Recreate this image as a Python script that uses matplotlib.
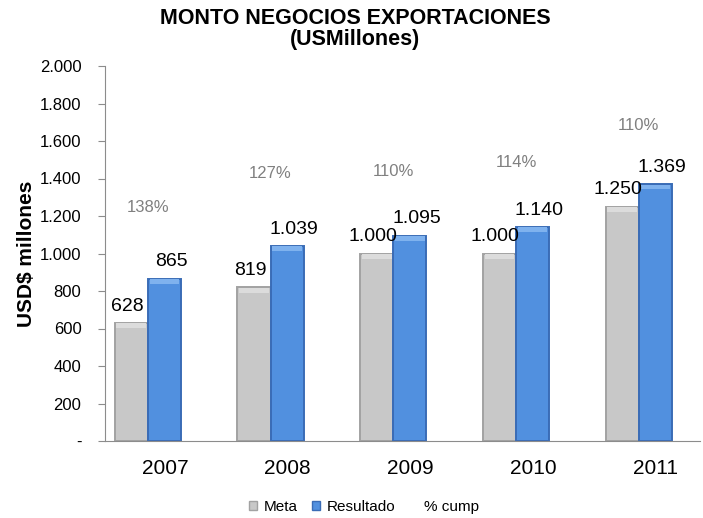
import matplotlib
matplotlib.use("Agg")
import matplotlib.pyplot as plt
import numpy as np
from matplotlib.patches import Patch
from matplotlib.lines import Line2D
import matplotlib.transforms as mtransforms

# Data
years = ["2007", "2008", "2009", "2010", "2011"]
meta = [628, 819, 1000, 1000, 1250]
resultado = [865, 1039, 1095, 1140, 1369]
cumplimiento = ["138%", "127%", "110%", "114%", "110%"]
cump_label_y = [1246, 1428, 1435, 1487, 1684]  # height at which each % label is written
yticks = [0, 200, 400, 600, 800, 1000, 1200, 1400, 1600, 1800, 2000]
ytick_labels = ["-", "200", "400", "600", "800", "1.000", "1.200", "1.400",
                "1.600", "1.800", "2.000"]

plt.rcParams["font.family"] = ["Liberation Sans", "DejaVu Sans"]
narrow = ["Liberation Sans Narrow", "Liberation Sans", "DejaVu Sans"]

fig = plt.figure(figsize=(7.03, 5.18), dpi=100)
ax = fig.add_axes([105 / 703, 77 / 518, 595 / 703, 375 / 518])

x = np.arange(len(years))
w = 0.27
gray_face, gray_edge, gray_top = "#C8C8C8", "#A2A2A2", "#DCDCDC"
blue_face, blue_edge, blue_top = "#5190DF", "#3A6CB6", "#7FB2EE"

ax.bar(x - w / 2, meta, w, color=gray_face, edgecolor=gray_edge, linewidth=1.4, zorder=2)
ax.bar(x + w / 2, resultado, w, color=blue_face, edgecolor=blue_edge, linewidth=1.4, zorder=2)

# bevel highlight along the top of each bar
bevel = 26
ax.bar(x - w / 2, [bevel] * len(meta), w * 0.9, bottom=np.array(meta) - bevel - 1,
       color=gray_top, linewidth=0, zorder=3)
ax.bar(x + w / 2, [bevel] * len(resultado), w * 0.9, bottom=np.array(resultado) - bevel - 1,
       color=blue_top, linewidth=0, zorder=3)


def fmt(v):
    return f"{v:,}".replace(",", ".")


for xi, v in zip(x, meta):
    ax.annotate(fmt(v), (xi - w / 2, v), xytext=(-3, 6), textcoords="offset points",
                ha="center", va="bottom", fontsize=14, color="black")
for xi, v in zip(x, resultado):
    ax.annotate(fmt(v), (xi + w / 2, v), xytext=(5, 6), textcoords="offset points",
                ha="center", va="bottom", fontsize=14, color="black")
for xi, lab, yy in zip(x, cumplimiento, cump_label_y):
    ax.text(xi, yy, lab, ha="center", va="center", fontsize=12, color="#808080")

ax.set_xlim(-0.35, 4.5)
ax.set_ylim(0, 2000)
ax.set_yticks(yticks)
ax.set_yticklabels(ytick_labels, family=narrow, fontsize=12)
ax.tick_params(axis="y", length=5, width=0.8, color="#8C8C8C", pad=12)
ax.set_xticks(x)
ax.set_xticklabels(years, fontsize=15)
ax.tick_params(axis="x", length=0, pad=13)
offset = mtransforms.ScaledTranslation(17 / 100, 0, fig.dpi_scale_trans)
for lbl in ax.get_xticklabels():
    lbl.set_transform(lbl.get_transform() + offset)

for s in ["top", "right"]:
    ax.spines[s].set_visible(False)
for s in ["left", "bottom"]:
    ax.spines[s].set_color("#8C8C8C")
    ax.spines[s].set_linewidth(0.8)

ax.set_ylabel("USD$ millones", fontsize=15, fontweight="bold", labelpad=3)

fig.text(355 / 703, 1 - 18 / 518, "MONTO NEGOCIOS EXPORTACIONES", ha="center", va="center",
         fontsize=15.5, fontweight="bold")
fig.text(355 / 703, 1 - 39 / 518, "(USMillones)", ha="center", va="center",
         fontsize=15.5, fontweight="bold")

handles = [Patch(facecolor=gray_face, edgecolor=gray_edge),
           Patch(facecolor=blue_face, edgecolor=blue_edge),
           Line2D([], [], linestyle="none")]
fig.legend(handles, ["Meta", "Resultado", "% cump"], loc="center",
           bbox_to_anchor=(364 / 703, 1 - 507 / 518), ncol=3, frameon=False,
           handlelength=0.55, handleheight=0.6, handletextpad=0.45, columnspacing=0.9,
           prop={"family": narrow, "size": 11})

fig.savefig("out.png", dpi=100)
